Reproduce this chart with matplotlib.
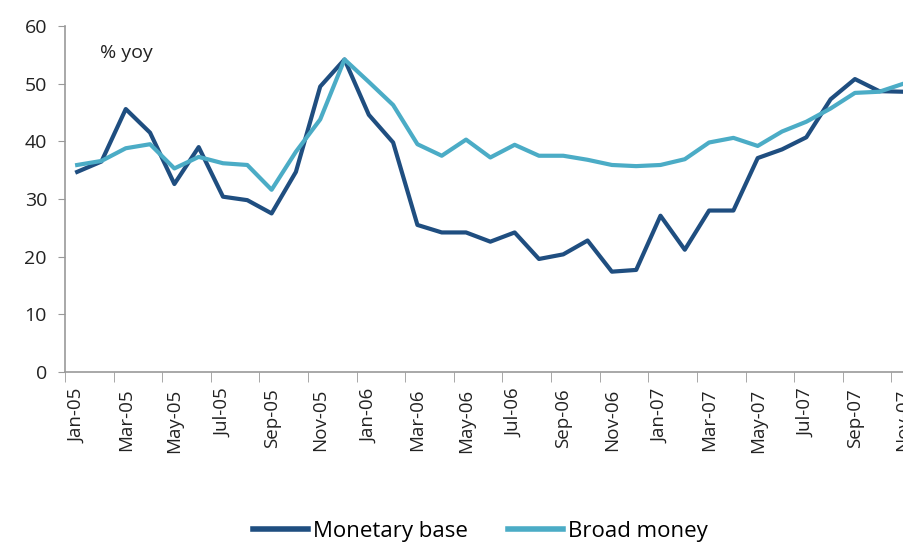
import matplotlib
matplotlib.use("Agg")
import matplotlib.pyplot as plt
from matplotlib.lines import Line2D

months = ["Jan-05","Feb-05","Mar-05","Apr-05","May-05","Jun-05","Jul-05","Aug-05","Sep-05","Oct-05","Nov-05","Dec-05",
          "Jan-06","Feb-06","Mar-06","Apr-06","May-06","Jun-06","Jul-06","Aug-06","Sep-06","Oct-06","Nov-06","Dec-06",
          "Jan-07","Feb-07","Mar-07","Apr-07","May-07","Jun-07","Jul-07","Aug-07","Sep-07","Oct-07","Nov-07","Dec-07"]

monetary_base = [34.7, 36.5, 45.6, 41.5, 32.6, 39.0, 30.4, 29.8, 27.5, 34.7, 49.5, 54.2,
                 44.6, 39.8, 25.5, 24.2, 24.2, 22.6, 24.2, 19.6, 20.4, 22.8, 17.4, 17.7,
                 27.1, 21.2, 28.0, 28.0, 37.1, 38.6, 40.7, 47.3, 50.8, 48.7, 48.6]
broad_money = [35.9, 36.6, 38.8, 39.5, 35.3, 37.3, 36.2, 35.9, 31.6, 38.2, 43.8, 54.2,
               50.3, 46.3, 39.5, 37.5, 40.3, 37.2, 39.4, 37.5, 37.5, 36.8, 35.9, 35.7,
               35.9, 36.9, 39.8, 40.6, 39.2, 41.7, 43.4, 45.7, 48.4, 48.6, 50.0]

yticks = [0, 10, 20, 30, 40, 50, 60]

dark = "#1F4E80"
light = "#4BACC6"
plt.rcParams['font.family'] = ['Open Sans', 'DejaVu Sans']

fig = plt.figure(figsize=(9.04, 5.43), dpi=100)
W, H = 904, 543
left_px, right_px, bottom_px, top_px = 65, 940, 372, 26
ax = fig.add_axes([left_px / W, 1 - bottom_px / H, (right_px - left_px) / W, (bottom_px - top_px) / H])

ax.plot(range(len(monetary_base)), monetary_base, color=dark, lw=3.0, clip_on=False)
ax.plot(range(len(broad_money)), broad_money, color=light, lw=3.0, clip_on=False)

ax.set_xlim(-0.5, len(months) - 0.5)
ax.set_ylim(0, 60)
ax.set_yticks(yticks)
ax.set_yticklabels([str(v) for v in yticks], fontsize=14, color="#222222")
ax.tick_params(axis='y', direction='out', length=5, color="#999999", pad=8)

ax.set_xticks(range(0, len(months), 2))
ax.set_xticklabels(months[::2], rotation=90, fontsize=13.5, color="#222222")
ax.set_xticks([i - 0.5 for i in range(0, len(months) + 1, 2)], minor=True)
ax.tick_params(axis='x', which='major', length=0, pad=12)
ax.tick_params(axis='x', which='minor', direction='out', length=7, color="#999999")

for s in ['top', 'right']:
    ax.spines[s].set_visible(False)
for s in ['left', 'bottom']:
    ax.spines[s].set_color("#999999")
    ax.spines[s].set_linewidth(1.2)

fig.text(100 / W, 1 - 53 / H, "% yoy", fontsize=14, color="#222222", va='center')

handles = [Line2D([0], [0], color=dark, lw=4), Line2D([0], [0], color=light, lw=4)]
fig.legend(handles, ["Monetary base", "Broad money"], loc='center', bbox_to_anchor=(480 / W, 1 - 531 / H),
           ncol=2, frameon=False, handlelength=2.5, handletextpad=0.2, columnspacing=1.8,
           prop={'size': 16})

fig.savefig("out.png", dpi=100)
